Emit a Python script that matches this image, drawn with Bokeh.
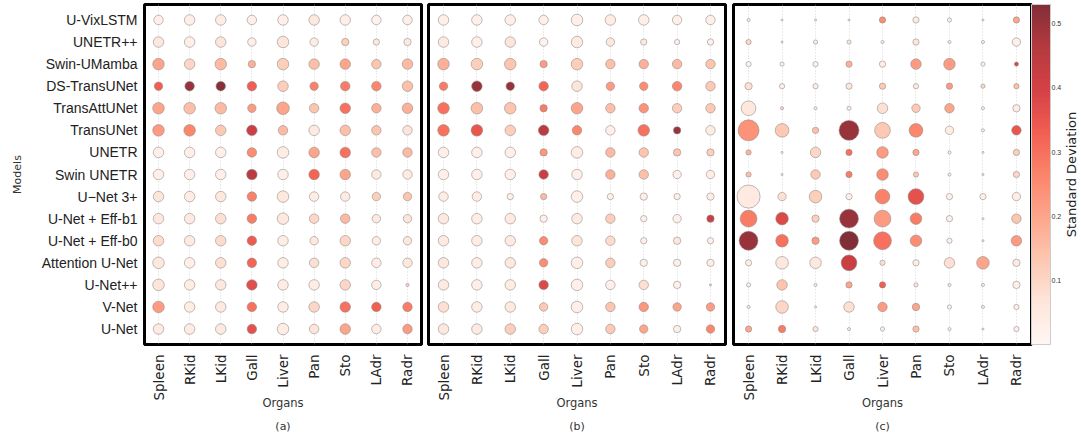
import numpy as np
from bokeh.plotting import figure
from bokeh.layouts import row
from bokeh.models import (ColumnDataSource, LinearColorMapper, ColorBar, FixedTicker,
                          Range1d, Title, Label)
from bokeh.transform import transform
from bokeh.embed import file_html
from bokeh.resources import INLINE

models = ["U-VixLSTM", "UNETR++", "Swin-UMamba", "DS-TransUNet", "TransAttUNet",
          "TransUNet", "UNETR", "Swin UNETR", "U\u2212Net 3+", "U-Net + Eff-b1",
          "U-Net + Eff-b0", "Attention U-Net", "U-Net++", "V-Net", "U-Net"]
organs = ["Spleen", "RKid", "LKid", "Gall", "Liver", "Pan", "Sto", "LAdr", "Radr"]
panel_labels = ["(a)", "(b)", "(c)"]
cbar_ticks = [0.1, 0.2, 0.3, 0.4, 0.5]
cbar_title = "Standard Deviation"

# standard deviation (colour) per model (rows) x organ (cols)
a_std = [
    [0.03, 0.03, 0.04, 0.03, 0.03, 0.06, 0.03, 0.02, 0.03],
    [0.06, 0.03, 0.07, 0.03, 0.07, 0.04, 0.12, 0.06, 0.05],
    [0.20, 0.10, 0.16, 0.18, 0.12, 0.15, 0.20, 0.14, 0.16],
    [0.33, 0.50, 0.52, 0.33, 0.12, 0.27, 0.28, 0.26, 0.15],
    [0.20, 0.15, 0.16, 0.22, 0.20, 0.14, 0.30, 0.18, 0.18],
    [0.22, 0.26, 0.13, 0.42, 0.16, 0.05, 0.15, 0.14, 0.07],
    [0.03, 0.03, 0.03, 0.25, 0.04, 0.20, 0.30, 0.15, 0.16],
    [0.03, 0.03, 0.03, 0.45, 0.03, 0.32, 0.20, 0.05, 0.05],
    [0.07, 0.04, 0.06, 0.27, 0.06, 0.04, 0.05, 0.12, 0.14],
    [0.06, 0.05, 0.08, 0.28, 0.06, 0.10, 0.16, 0.05, 0.07],
    [0.09, 0.05, 0.09, 0.34, 0.04, 0.06, 0.10, 0.04, 0.06],
    [0.06, 0.03, 0.08, 0.32, 0.04, 0.08, 0.10, 0.04, 0.06],
    [0.07, 0.04, 0.06, 0.37, 0.04, 0.04, 0.10, 0.04, 0.10],
    [0.22, 0.04, 0.05, 0.30, 0.04, 0.10, 0.30, 0.33, 0.28],
    [0.05, 0.04, 0.05, 0.36, 0.04, 0.07, 0.20, 0.04, 0.22],
]
b_std = [
    [0.03, 0.03, 0.03, 0.03, 0.03, 0.04, 0.03, 0.03, 0.03],
    [0.05, 0.03, 0.07, 0.02, 0.05, 0.06, 0.06, 0.03, 0.03],
    [0.18, 0.12, 0.14, 0.22, 0.12, 0.15, 0.18, 0.16, 0.14],
    [0.28, 0.50, 0.50, 0.32, 0.07, 0.22, 0.25, 0.26, 0.13],
    [0.30, 0.15, 0.14, 0.28, 0.20, 0.15, 0.24, 0.12, 0.13],
    [0.30, 0.35, 0.12, 0.45, 0.26, 0.03, 0.30, 0.50, 0.04],
    [0.03, 0.03, 0.03, 0.23, 0.04, 0.16, 0.14, 0.14, 0.12],
    [0.03, 0.03, 0.03, 0.42, 0.03, 0.18, 0.15, 0.03, 0.04],
    [0.04, 0.04, 0.03, 0.16, 0.03, 0.03, 0.04, 0.03, 0.04],
    [0.06, 0.04, 0.05, 0.03, 0.05, 0.12, 0.03, 0.03, 0.42],
    [0.05, 0.04, 0.05, 0.25, 0.07, 0.09, 0.03, 0.06, 0.03],
    [0.06, 0.04, 0.06, 0.25, 0.03, 0.12, 0.03, 0.03, 0.04],
    [0.05, 0.03, 0.04, 0.38, 0.03, 0.03, 0.08, 0.03, 0.10],
    [0.08, 0.04, 0.05, 0.13, 0.03, 0.14, 0.23, 0.20, 0.22],
    [0.06, 0.05, 0.12, 0.12, 0.03, 0.13, 0.20, 0.03, 0.26],
]
c_std = [
    [0.05, 0.05, 0.05, 0.05, 0.25, 0.05, 0.03, 0.04, 0.20],
    [0.10, 0.05, 0.05, 0.07, 0.04, 0.07, 0.04, 0.04, 0.03],
    [0.02, 0.03, 0.03, 0.18, 0.04, 0.22, 0.22, 0.03, 0.38],
    [0.08, 0.03, 0.04, 0.07, 0.13, 0.05, 0.22, 0.10, 0.15],
    [0.06, 0.10, 0.05, 0.05, 0.08, 0.13, 0.20, 0.03, 0.04],
    [0.24, 0.13, 0.15, 0.50, 0.13, 0.26, 0.04, 0.03, 0.35],
    [0.17, 0.05, 0.10, 0.30, 0.22, 0.20, 0.04, 0.04, 0.12],
    [0.15, 0.05, 0.13, 0.28, 0.25, 0.14, 0.04, 0.04, 0.10],
    [0.05, 0.08, 0.12, 0.03, 0.27, 0.36, 0.03, 0.03, 0.04],
    [0.28, 0.38, 0.12, 0.50, 0.22, 0.28, 0.03, 0.04, 0.14],
    [0.50, 0.30, 0.22, 0.53, 0.30, 0.25, 0.03, 0.04, 0.22],
    [0.04, 0.06, 0.06, 0.42, 0.08, 0.04, 0.08, 0.20, 0.05],
    [0.03, 0.14, 0.03, 0.20, 0.33, 0.07, 0.04, 0.04, 0.03],
    [0.05, 0.10, 0.04, 0.08, 0.22, 0.20, 0.03, 0.04, 0.03],
    [0.20, 0.28, 0.07, 0.05, 0.03, 0.15, 0.03, 0.04, 0.03],
]

# marker magnitude (relative size) per model x organ
a_mag = [
    [0.9, 1.0, 1.0, 0.9, 1.0, 1.0, 1.0, 0.9, 0.9],
    [1.0, 1.0, 1.0, 0.8, 1.1, 0.8, 0.7, 0.6, 0.7],
    [1.1, 1.0, 1.1, 0.7, 1.1, 1.0, 1.0, 0.9, 1.0],
    [0.8, 0.9, 0.9, 0.9, 1.0, 0.8, 0.9, 0.9, 1.0],
    [1.1, 1.1, 1.1, 0.8, 1.2, 0.9, 1.0, 0.9, 1.0],
    [1.1, 1.1, 1.0, 1.0, 0.9, 1.0, 1.0, 0.9, 0.9],
    [1.0, 1.0, 1.0, 0.9, 1.1, 1.0, 1.0, 0.9, 0.9],
    [1.0, 1.0, 1.0, 1.0, 1.0, 1.0, 1.0, 0.9, 0.9],
    [1.0, 1.0, 1.0, 0.9, 1.1, 0.9, 0.9, 0.8, 0.8],
    [1.0, 1.0, 1.0, 0.9, 1.1, 0.9, 0.9, 0.8, 0.8],
    [1.0, 1.0, 1.0, 0.9, 1.0, 0.8, 1.0, 0.8, 0.8],
    [1.1, 1.0, 1.0, 0.9, 1.0, 0.9, 1.0, 0.9, 0.9],
    [1.1, 1.0, 1.0, 1.0, 1.0, 1.0, 1.0, 0.9, 0.3],
    [1.1, 1.0, 1.0, 0.9, 1.0, 1.0, 1.0, 0.9, 0.9],
    [1.0, 1.0, 1.0, 0.9, 1.1, 0.9, 1.0, 0.9, 0.9],
]
b_mag = [
    [1.0, 1.0, 1.0, 0.9, 1.1, 1.0, 1.0, 0.9, 0.9],
    [1.0, 1.0, 1.0, 0.8, 1.1, 0.8, 0.6, 0.5, 0.6],
    [1.1, 1.1, 1.1, 0.7, 1.1, 0.9, 0.9, 0.9, 0.9],
    [0.8, 1.0, 0.8, 0.9, 1.0, 0.8, 0.8, 0.9, 0.9],
    [1.1, 1.1, 1.1, 0.7, 1.1, 0.9, 0.9, 0.9, 0.9],
    [1.1, 1.1, 1.0, 1.0, 0.9, 0.9, 1.1, 0.7, 0.9],
    [1.0, 1.0, 1.0, 0.7, 1.1, 0.9, 0.9, 0.7, 0.7],
    [1.0, 1.0, 1.0, 0.9, 1.0, 0.9, 0.9, 0.8, 0.8],
    [0.9, 0.9, 0.6, 0.6, 1.1, 0.6, 0.7, 0.6, 0.7],
    [1.0, 1.0, 1.0, 0.7, 1.0, 0.9, 0.6, 0.8, 0.7],
    [1.0, 1.0, 1.0, 0.8, 1.0, 0.9, 0.6, 0.7, 0.6],
    [1.0, 1.0, 1.0, 0.8, 1.1, 0.9, 0.7, 0.7, 0.7],
    [1.0, 1.0, 1.0, 0.9, 1.1, 0.9, 0.9, 0.7, 0.2],
    [1.0, 1.0, 1.0, 0.8, 1.1, 0.9, 0.9, 0.8, 0.8],
    [1.0, 1.0, 1.0, 0.9, 1.1, 0.9, 0.8, 0.7, 0.8],
]
c_mag = [
    [0.3, 0.2, 0.2, 0.2, 0.6, 0.6, 0.4, 0.2, 0.6],
    [0.5, 0.2, 0.4, 0.4, 0.3, 0.6, 0.3, 0.3, 0.8],
    [0.5, 0.4, 0.5, 0.6, 0.6, 1.0, 1.1, 0.4, 0.4],
    [0.7, 0.5, 0.5, 0.6, 0.6, 0.5, 0.6, 0.4, 0.5],
    [1.4, 0.3, 0.3, 0.4, 1.0, 0.8, 0.9, 0.3, 0.7],
    [2.0, 1.3, 0.6, 1.9, 1.5, 1.3, 0.8, 0.3, 0.9],
    [0.5, 0.2, 1.0, 0.6, 1.1, 0.6, 0.3, 0.2, 0.6],
    [0.5, 0.2, 0.9, 0.6, 1.1, 0.5, 0.3, 0.2, 0.6],
    [2.2, 0.8, 1.2, 0.6, 1.4, 1.5, 0.6, 0.6, 0.8],
    [1.6, 1.2, 0.7, 1.8, 1.6, 1.1, 0.6, 0.2, 0.9],
    [1.8, 1.2, 0.7, 1.8, 1.7, 1.1, 0.5, 0.2, 1.0],
    [0.6, 1.2, 1.1, 1.5, 0.5, 0.6, 1.0, 1.2, 0.7],
    [0.4, 1.0, 0.3, 0.6, 0.6, 0.4, 0.3, 0.3, 0.7],
    [0.3, 1.2, 0.2, 1.0, 0.9, 0.7, 0.4, 0.3, 0.5],
    [0.6, 0.7, 0.5, 0.3, 0.4, 0.6, 0.3, 0.2, 0.5],
]

# ---- colour map (matplotlib-like "Reds" seen through alpha) ----
reds = ['#fff5f0', '#fee0d2', '#fcbba1', '#fc9272', '#fb6a4a',
        '#ef3b2c', '#cb181d', '#a50f15', '#67000d']
def _rgb(h):
    return np.array([int(h[i:i + 2], 16) for i in (1, 3, 5)], dtype=float)
stops = np.array([_rgb(c) for c in reds])
t_stop = np.linspace(0, 1, len(reds))
t_fine = np.linspace(0, 1, 256)
alpha = 0.82
palette = []
for t in t_fine:
    c = np.array([np.interp(t, t_stop, stops[:, k]) for k in range(3)])
    c = alpha * c + (1 - alpha) * 255
    palette.append('#%02x%02x%02x' % tuple(int(round(v)) for v in c))
mapper = LinearColorMapper(palette=palette, low=0.0, high=0.53)

FRAME_H = 340
SCALE = 10.5
X_LO, X_HI = -0.45, 8.45
Y_LO, Y_HI = -0.7, 14.7


def make_panel(std, mag, label, show_y, fw, bl, br):
    xs, ys, ss, ms = [], [], [], []
    n = len(models)
    for i in range(n):
        for j in range(len(organs)):
            xs.append(j)
            ys.append(n - 1 - i)
            ss.append(std[i][j])
            ms.append(mag[i][j] * SCALE)
    src = ColumnDataSource(dict(x=xs, y=ys, std=ss, size=ms))
    p = figure(frame_width=fw, frame_height=FRAME_H,
               x_range=Range1d(X_LO, X_HI), y_range=Range1d(Y_LO, Y_HI),
               output_backend="svg", toolbar_location=None,
               min_border_left=bl, min_border_right=br, min_border_top=4,
               min_border_bottom=0)
    p.scatter('x', 'y', size='size', source=src,
              fill_color=transform('std', mapper), fill_alpha=1.0,
              line_color="#8a8a8a", line_alpha=0.7, line_width=0.8)
    p.outline_line_color = "black"
    p.outline_line_width = 3
    p.outline_line_alpha = 1.0
    p.background_fill_color = "white"
    # grid
    p.ygrid.visible = False
    p.xgrid.ticker = FixedTicker(ticks=list(range(len(organs))))
    p.xgrid.grid_line_color = "#bdbdbd"
    p.xgrid.grid_line_dash = "1 2"
    p.xgrid.grid_line_alpha = 0.6
    # x axis
    xa = p.xaxis[0]
    xa.ticker = FixedTicker(ticks=list(range(len(organs))))
    xa.major_label_overrides = {j: o for j, o in enumerate(organs)}
    xa.major_label_orientation = np.pi / 2
    xa.major_label_text_font = "DejaVu Sans"
    xa.major_label_text_font_size = "13.5px"
    xa.major_label_text_color = "#222222"
    xa.major_label_standoff = 4
    xa.major_tick_line_color = None
    xa.minor_tick_line_color = None
    xa.axis_line_color = None
    xa.axis_label = "Organs"
    xa.axis_label_text_font = "DejaVu Sans"
    xa.axis_label_text_font_size = "11.5px"
    xa.axis_label_text_font_style = "normal"
    xa.axis_label_text_color = "#333333"
    xa.axis_label_standoff = -8
    # y axis
    ya = p.yaxis[0]
    if show_y:
        n = len(models)
        ya.ticker = FixedTicker(ticks=list(range(n)))
        ya.major_label_overrides = {n - 1 - i: m for i, m in enumerate(models)}
        ya.major_label_text_font = "Liberation Sans"
        ya.major_label_text_font_size = "14px"
        ya.major_label_text_color = "#222222"
        ya.major_label_standoff = 1
        ya.major_tick_line_color = None
        ya.minor_tick_line_color = None
        ya.axis_line_color = None
        ya.axis_label = "Models"
        ya.axis_label_text_font = "DejaVu Sans"
        ya.axis_label_text_font_size = "11px"
        ya.axis_label_text_font_style = "normal"
        ya.axis_label_text_color = "#333333"
        ya.axis_label_standoff = 15
    else:
        ya.visible = False
    t = Title(text=label, align="center", text_font="DejaVu Sans",
              text_font_size="11px", text_font_style="normal",
              text_color="#333333", standoff=10)
    p.add_layout(t, "below")
    return p


p1 = make_panel(a_std, a_mag, panel_labels[0], True, 277, 144, 3)
p2 = make_panel(b_std, b_mag, panel_labels[1], False, 297, 4, 4)
p3 = make_panel(c_std, c_mag, panel_labels[2], False, 298, 4, 0)

cb = ColorBar(color_mapper=mapper, ticker=FixedTicker(ticks=cbar_ticks),
              width=19, margin=9, padding=0, label_standoff=1,
              major_label_text_font_size="7px", major_label_text_color="#333333",
              major_tick_line_color=None, minor_tick_line_color=None,
              bar_line_color="#cccccc", bar_line_width=1,
              border_line_color=None, background_fill_color=None)
p3.add_layout(cb, "right")

# narrow strip holding the colour-bar title (reads bottom-to-top)
p4 = figure(frame_width=13, frame_height=FRAME_H,
            x_range=Range1d(0, 1), y_range=Range1d(0, 1),
            output_backend="svg", toolbar_location=None,
            min_border_left=0, min_border_right=0, min_border_top=4,
            min_border_bottom=0)
p4.xaxis.visible = False
p4.yaxis.visible = False
p4.grid.visible = False
p4.outline_line_color = None
title_lbl = Label(x=0.5, y=0.5, x_units="data", y_units="data",
                  angle=np.pi / 2, text=cbar_title,
                  text_align="center", text_baseline="middle",
                  text_font="DejaVu Sans", text_font_size="13px",
                  text_color="#222222")
p4.add_layout(title_lbl)

layout = row(p1, p2, p3, p4)
open("out.html", "w").write(file_html(layout, INLINE))
